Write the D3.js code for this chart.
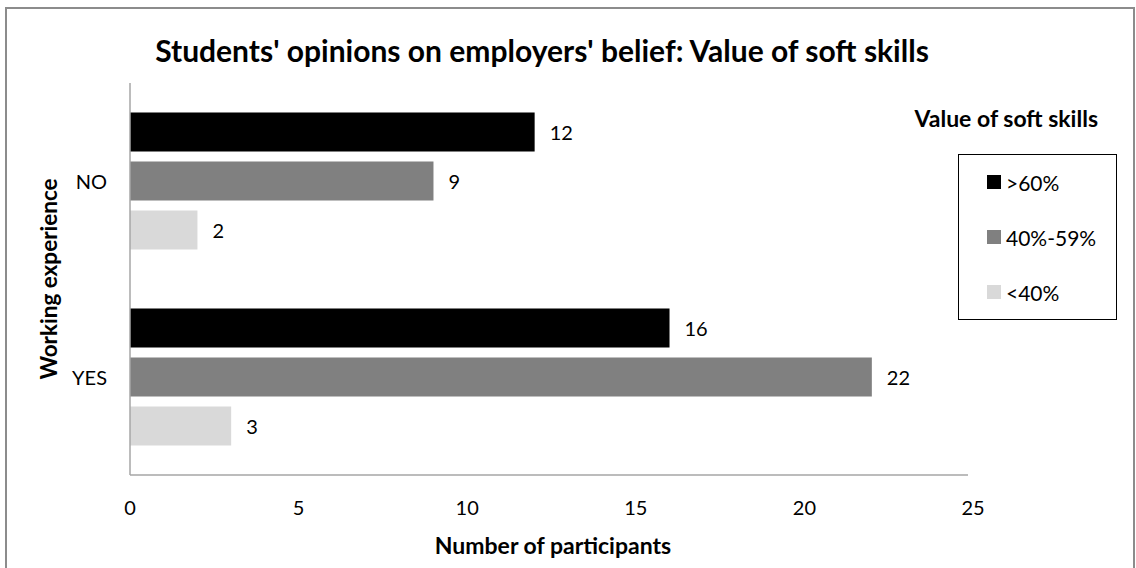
<!DOCTYPE html>
<html>
<head>
<meta charset="utf-8">
<script src="https://cdn.jsdelivr.net/npm/d3@7"></script>
<style>
  body { margin: 0; background: #fff; }
  svg text { font-family: Lato, "Open Sans", sans-serif; fill: #000; }
</style>
</head>
<body>
<svg id="chart" width="1136" height="568"></svg>
<script>
// data
var categories = ['NO', 'YES'];
var seriesNames = ['>60%', '40%-59%', '<40%'];
var seriesColors = ['#000000', '#808080', '#d9d9d9'];
var valuesHigh = [12, 16];
var valuesMid = [9, 22];
var valuesLow = [2, 3];
var xTicks = [0, 5, 10, 15, 20, 25];

var seriesValues = [valuesHigh, valuesMid, valuesLow];
var rows = [];
categories.forEach(function (c, i) {
    seriesNames.forEach(function (s, j) {
        rows.push({ cat: c, series: s, color: seriesColors[j], value: seriesValues[j][i] });
    });
});

var svg = d3.select('#chart');

// outer frame
svg.append('rect').attr('x', 6).attr('y', 8).attr('width', 1128).attr('height', 580)
    .attr('fill', 'none').attr('stroke', '#8c8c8c').attr('stroke-width', 2);

var plot = { left: 130, right: 973, top: 83, bottom: 475 };

var x = d3.scaleLinear().domain([0, 25]).range([plot.left, plot.right]);
var y = d3.scaleBand().domain(categories).range([plot.top, plot.bottom]).padding(0);
var ySub = d3.scaleBand().domain(seriesNames).range([0, y.bandwidth()])
    .paddingInner(0.204).paddingOuter(0.602);

// title
svg.append('text').attr('x', 542).attr('y', 50).attr('text-anchor', 'middle')
    .attr('dominant-baseline', 'central')
    .style('font-size', '30px').style('font-weight', 'bold')
    .text("Students' opinions on employers' belief: Value of soft skills");

// bars
svg.append('g').selectAll('rect').data(rows).enter().append('rect')
    .attr('x', x(0))
    .attr('y', function (d) { return y(d.cat) + ySub(d.series); })
    .attr('width', function (d) { return x(d.value) - x(0); })
    .attr('height', ySub.bandwidth())
    .attr('fill', function (d) { return d.color; });

// value labels
svg.append('g').selectAll('text').data(rows).enter().append('text')
    .attr('x', function (d) { return x(d.value) + 15; })
    .attr('y', function (d) { return y(d.cat) + ySub(d.series) + ySub.bandwidth() / 2; })
    .attr('dominant-baseline', 'central')
    .style('font-size', '20px')
    .text(function (d) { return d.value; });

// axes lines
svg.append('line').attr('x1', plot.left).attr('x2', plot.left)
    .attr('y1', plot.top).attr('y2', plot.bottom)
    .attr('stroke', '#a6a6a6').attr('stroke-width', 1.5);
svg.append('line').attr('x1', plot.left).attr('x2', x(25) - 5)
    .attr('y1', plot.bottom).attr('y2', plot.bottom)
    .attr('stroke', '#a6a6a6').attr('stroke-width', 1.5);

// x tick labels
svg.append('g').selectAll('text').data(xTicks).enter().append('text')
    .attr('x', function (d) { return x(d); })
    .attr('y', 507)
    .attr('text-anchor', 'middle').attr('dominant-baseline', 'central')
    .style('font-size', '20px')
    .text(function (d) { return d; });

// category labels
svg.append('g').selectAll('text').data(categories).enter().append('text')
    .attr('x', plot.left - 23)
    .attr('y', function (d) { return y(d) + y.bandwidth() / 2; })
    .attr('text-anchor', 'end').attr('dominant-baseline', 'central')
    .style('font-size', '20px')
    .text(function (d) { return d; });

// axis titles
svg.append('text').attr('x', 553).attr('y', 545)
    .attr('text-anchor', 'middle').attr('dominant-baseline', 'central')
    .style('font-size', '23px').style('font-weight', 'bold')
    .text('Number of participants');
svg.append('text')
    .attr('transform', 'translate(48,279) rotate(-90)')
    .attr('text-anchor', 'middle').attr('dominant-baseline', 'central')
    .style('font-size', '22.5px').style('font-weight', 'bold')
    .text('Working experience');

// legend
svg.append('text').attr('x', 1098).attr('y', 118)
    .attr('text-anchor', 'end').attr('dominant-baseline', 'central')
    .style('font-size', '23px').style('font-weight', 'bold')
    .text('Value of soft skills');
svg.append('rect').attr('x', 958.5).attr('y', 154.5).attr('width', 158).attr('height', 165)
    .attr('fill', '#fff').attr('stroke', '#000').attr('stroke-width', 1);
var legendItems = svg.append('g').selectAll('g').data(seriesNames).enter().append('g')
    .attr('transform', function (d, i) { return 'translate(987,' + (182 + i * 55) + ')'; });
legendItems.append('rect').attr('x', 0).attr('y', -7).attr('width', 14).attr('height', 14)
    .attr('fill', function (d, i) { return seriesColors[i]; });
legendItems.append('text').attr('x', 19).attr('y', 0)
    .attr('dominant-baseline', 'central')
    .style('font-size', '21px')
    .text(function (d) { return d; });
</script>
</body>
</html>
